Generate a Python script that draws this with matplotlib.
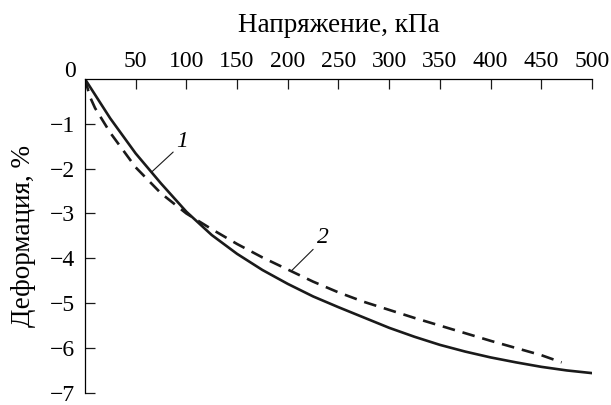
import numpy as np
import matplotlib.pyplot as plt

plt.rcParams['font.family'] = ['Liberation Serif', 'DejaVu Serif']
plt.rcParams['font.size'] = 17

# Данные
x1 = np.array([0, 25, 50, 75, 100, 125, 150, 175, 200, 225, 250, 275, 300,
               325, 350, 375, 400, 425, 450, 475, 500])
y1 = np.array([0, -0.88, -1.66, -2.33, -2.96, -3.48, -3.90, -4.26, -4.57, -4.85,
               -5.09, -5.32, -5.55, -5.75, -5.93, -6.08, -6.21, -6.32, -6.42,
               -6.50, -6.56])

x2 = np.array([0, 5, 10, 25, 50, 75, 100, 125, 150, 175, 200, 225, 250, 275, 300,
               325, 350, 375, 400, 425, 450, 470])
y2 = np.array([0, -0.40, -0.65, -1.20, -1.97, -2.55, -3.00, -3.35, -3.68, -3.98,
               -4.25, -4.52, -4.76, -4.97, -5.15, -5.33, -5.50, -5.67, -5.84,
               -6.00, -6.16, -6.32])

xticks = [50, 100, 150, 200, 250, 300, 350, 400, 450, 500]
yticks = [-7, -6, -5, -4, -3, -2, -1]

fig = plt.figure(figsize=(6.11, 4.05), dpi=100)
ax = fig.add_axes([0.139, 0.03, 0.830, 0.775])

ax.plot(x1, y1, '-', color='#1a1a1a', lw=1.9)
ax.plot(x2, y2, '--', color='#1a1a1a', lw=1.9, dashes=(4.8, 3.0))

# подписи кривых
ax.annotate('', xy=(66, -2.07), xytext=(87, -1.63),
            arrowprops=dict(arrowstyle='-', lw=0.8, color='#1a1a1a', shrinkA=0, shrinkB=0))
ax.text(90, -1.52, '1', style='italic', ha='left', va='baseline')
ax.annotate('', xy=(204, -4.27), xytext=(225, -3.80),
            arrowprops=dict(arrowstyle='-', lw=0.8, color='#1a1a1a', shrinkA=0, shrinkB=0))
ax.text(229, -3.65, '2', style='italic', ha='left', va='baseline')

ax.set_xlim(0, 500)
ax.set_ylim(-7, 0)
ax.set_xticks(xticks)
ax.set_yticks(yticks)
ax.xaxis.tick_top()
ax.xaxis.set_label_position('top')
ax.tick_params(axis='both', direction='in', length=7, width=0.9, color='#1a1a1a')
ax.tick_params(axis='x', pad=5)
ax.tick_params(axis='y', pad=7)

for s in ['right', 'bottom']:
    ax.spines[s].set_visible(False)
for s in ['top', 'left']:
    ax.spines[s].set_linewidth(0.9)

ax.set_xlabel('Напряжение, кПа', fontsize=19.5, labelpad=14)
ax.set_ylabel('Деформация, %', fontsize=19.5, labelpad=10)
ax.text(-0.018, 1.006, '0', transform=ax.transAxes, ha='right', va='baseline')

plt.savefig('out.png', dpi=100)
